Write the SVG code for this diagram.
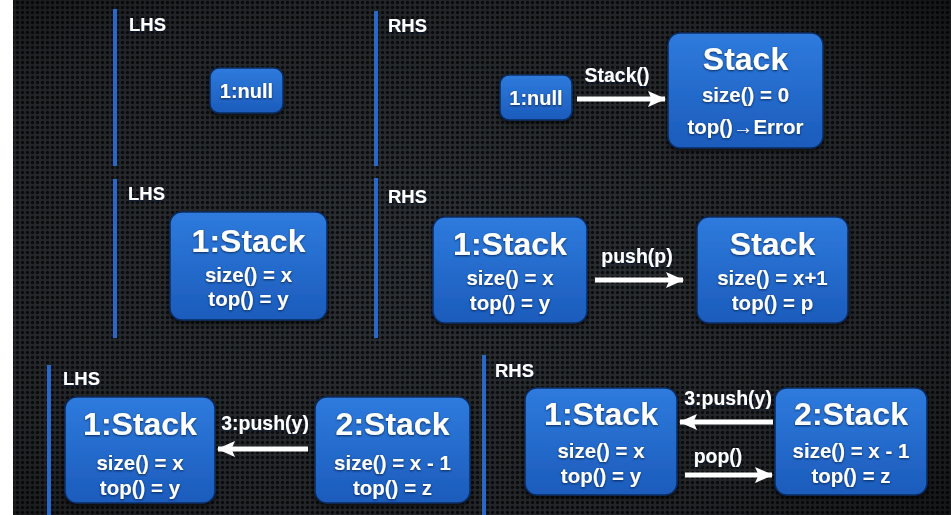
<svg xmlns="http://www.w3.org/2000/svg" width="951" height="515" viewBox="0 0 951 515">
  <defs>
    <pattern id="mesh" width="5" height="5" patternUnits="userSpaceOnUse">
      <rect width="5" height="5" fill="#2c2f33"/>
      <circle cx="2.5" cy="2.5" r="1.7" fill="#0c0d0f"/>
    </pattern>
    <radialGradient id="vignette" cx="0.45" cy="0.5" r="0.75">
      <stop offset="0" stop-color="#000" stop-opacity="0"/>
      <stop offset="0.7" stop-color="#000" stop-opacity="0.22"/>
      <stop offset="1" stop-color="#000" stop-opacity="0.55"/>
    </radialGradient>
    <linearGradient id="boxFill" x1="0" y1="0" x2="0" y2="1">
      <stop offset="0" stop-color="#2e7bdd"/>
      <stop offset="1" stop-color="#1b5bbb"/>
    </linearGradient>
    <filter id="boxShadow" x="-10%" y="-10%" width="120%" height="130%">
      <feDropShadow dx="0" dy="2" stdDeviation="2" flood-color="#000" flood-opacity="0.7"/>
    </filter>
    <filter id="textShadow" x="-10%" y="-20%" width="120%" height="150%">
      <feDropShadow dx="0" dy="1" stdDeviation="0.8" flood-color="#00163a" flood-opacity="0.8"/>
    </filter>
    <marker id="head" viewBox="0 0 18 16" refX="17" refY="8" markerWidth="18" markerHeight="16" markerUnits="userSpaceOnUse" orient="auto">
      <path d="M0,0 L18,8 L0,16 L3.5,8 Z" fill="#ffffff"/>
    </marker>
    <style>
      .box { fill: url(#boxFill); stroke: #0a2c60; stroke-width: 1.5; filter: url(#boxShadow); }
      .rule { stroke: #2a68c8; stroke-width: 4; }
      text { font-family: "Liberation Sans", Arial, sans-serif; font-weight: bold; fill: #ffffff; text-anchor: middle; filter: url(#textShadow); }
      .side { font-size: 18.5px; text-anchor: start; }
      .title { font-size: 32px; }
      .attr { font-size: 20.5px; }
      .small { font-size: 20px; }
      .msg { font-size: 19.5px; }
      .arrow { stroke: #ffffff; stroke-width: 5; fill: none; marker-end: url(#head); }
    </style>
  </defs>

  <!-- backdrop: dark perforated metal with a white margin on the left -->
  <rect width="951" height="515" fill="url(#mesh)"/>
  <rect width="951" height="515" fill="url(#vignette)"/>
  <rect x="0" y="0" width="13" height="515" fill="#ffffff"/>

  <!-- section rules and side labels -->
  <g id="sections">
    <line class="rule" x1="115" y1="9" x2="115" y2="166"/>
    <line class="rule" x1="376" y1="11" x2="376" y2="166"/>
    <line class="rule" x1="115" y1="179" x2="115" y2="338"/>
    <line class="rule" x1="376" y1="178" x2="376" y2="338"/>
    <line class="rule" x1="49" y1="365" x2="49" y2="515"/>
    <line class="rule" x1="484" y1="355" x2="484" y2="515"/>
    <text class="side" x="129" y="31">LHS</text>
    <text class="side" x="388" y="32">RHS</text>
    <text class="side" x="128" y="200">LHS</text>
    <text class="side" x="388" y="203">RHS</text>
    <text class="side" x="63" y="385">LHS</text>
    <text class="side" x="495" y="377">RHS</text>
  </g>

  <!-- row 1 -->
  <g id="null-lhs">
    <rect class="box" x="210" y="68" width="73" height="45" rx="9"/>
    <text class="small" x="246.5" y="98">1:null</text>
  </g>
  <g id="null-rhs">
    <rect class="box" x="500" y="75" width="72" height="45" rx="9"/>
    <text class="small" x="536" y="105">1:null</text>
  </g>
  <g id="stack-new">
    <rect class="box" x="668" y="33" width="155" height="115" rx="12"/>
    <text class="title" x="745.5" y="70">Stack</text>
    <text class="attr" x="745.5" y="102">size() = 0</text>
    <text class="attr" x="745.5" y="134">top()→Error</text>
  </g>

  <!-- row 2 -->
  <g id="stack-lhs-2">
    <rect class="box" x="170" y="212" width="157" height="108" rx="12"/>
    <text class="title" x="248.5" y="252">1:Stack</text>
    <text class="attr" x="248.5" y="282">size() = x</text>
    <text class="attr" x="248.5" y="306">top() = y</text>
  </g>
  <g id="stack-rhs-2a">
    <rect class="box" x="433" y="217" width="154" height="106" rx="12"/>
    <text class="title" x="510" y="255">1:Stack</text>
    <text class="attr" x="510" y="285">size() = x</text>
    <text class="attr" x="510" y="310">top() = y</text>
  </g>
  <g id="stack-rhs-2b">
    <rect class="box" x="697" y="217" width="151" height="106" rx="12"/>
    <text class="title" x="772.5" y="255">Stack</text>
    <text class="attr" x="772.5" y="285">size() = x+1</text>
    <text class="attr" x="772.5" y="310">top() = p</text>
  </g>

  <!-- row 3 -->
  <g id="stack-lhs-3a">
    <rect class="box" x="65" y="397" width="150" height="106" rx="12"/>
    <text class="title" x="140" y="435">1:Stack</text>
    <text class="attr" x="140" y="470">size() = x</text>
    <text class="attr" x="140" y="495">top() = y</text>
  </g>
  <g id="stack-lhs-3b">
    <rect class="box" x="315" y="397" width="155" height="106" rx="12"/>
    <text class="title" x="392.5" y="435">2:Stack</text>
    <text class="attr" x="392.5" y="470">size() = x - 1</text>
    <text class="attr" x="392.5" y="495">top() = z</text>
  </g>
  <g id="stack-rhs-3a">
    <rect class="box" x="525" y="388" width="152" height="107" rx="12"/>
    <text class="title" x="601" y="425">1:Stack</text>
    <text class="attr" x="601" y="458">size() = x</text>
    <text class="attr" x="601" y="483">top() = y</text>
  </g>
  <g id="stack-rhs-3b">
    <rect class="box" x="775" y="388" width="152" height="107" rx="12"/>
    <text class="title" x="851" y="425">2:Stack</text>
    <text class="attr" x="851" y="458">size() = x - 1</text>
    <text class="attr" x="851" y="483">top() = z</text>
  </g>

  <!-- connectors -->
  <g id="connectors">
    <line class="arrow" x1="577" y1="99" x2="665" y2="99"/>
    <text class="msg" x="617" y="82">Stack()</text>

    <line class="arrow" x1="595" y1="280" x2="683" y2="280"/>
    <text class="msg" x="637" y="263">push(p)</text>

    <line class="arrow" x1="308" y1="449" x2="218" y2="449"/>
    <text class="msg" x="265" y="430">3:push(y)</text>

    <line class="arrow" x1="773" y1="422" x2="680" y2="422"/>
    <text class="msg" x="728" y="405">3:push(y)</text>

    <line class="arrow" x1="685" y1="475" x2="772" y2="475"/>
    <text class="msg" x="718" y="463">pop()</text>
  </g>
</svg>
